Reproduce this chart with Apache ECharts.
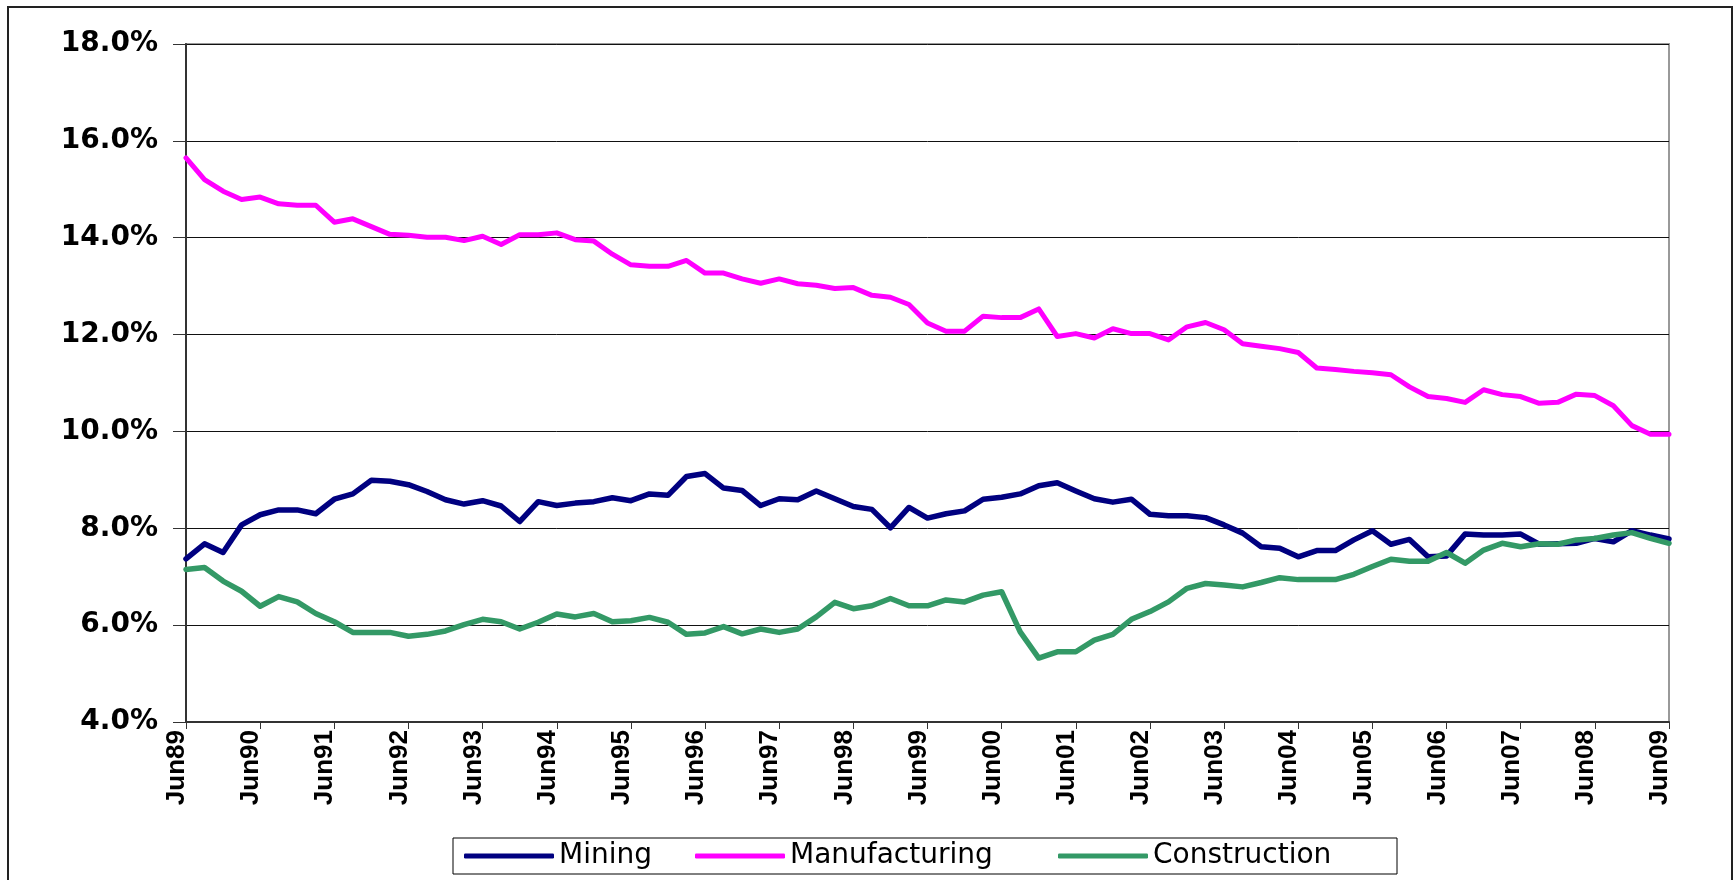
<!DOCTYPE html>
<html>
<head>
<meta charset="utf-8">
<script src="https://cdn.jsdelivr.net/npm/echarts@6/dist/echarts.min.js"></script>
<style>
html,body{margin:0;padding:0;background:#fff;}
#chart{width:1736px;height:880px;}
</style>
</head>
<body>
<div id="chart"></div>
<script>
const categories = [
 'Jun89','Sep89','Dec89','Mar90','Jun90','Sep90','Dec90','Mar91','Jun91','Sep91','Dec91','Mar92',
 'Jun92','Sep92','Dec92','Mar93','Jun93','Sep93','Dec93','Mar94','Jun94','Sep94','Dec94','Mar95',
 'Jun95','Sep95','Dec95','Mar96','Jun96','Sep96','Dec96','Mar97','Jun97','Sep97','Dec97','Mar98',
 'Jun98','Sep98','Dec98','Mar99','Jun99','Sep99','Dec99','Mar00','Jun00','Sep00','Dec00','Mar01',
 'Jun01','Sep01','Dec01','Mar02','Jun02','Sep02','Dec02','Mar03','Jun03','Sep03','Dec03','Mar04',
 'Jun04','Sep04','Dec04','Mar05','Jun05','Sep05','Dec05','Mar06','Jun06','Sep06','Dec06','Mar07',
 'Jun07','Sep07','Dec07','Mar08','Jun08','Sep08','Dec08','Mar09','Jun09'
];

const mining = [
 7.37,7.68,7.50,8.07,8.28,8.38,8.38,8.30,8.60,8.71,
 8.99,8.97,8.90,8.76,8.59,8.50,8.57,8.46,8.14,8.55,
 8.47,8.52,8.55,8.63,8.57,8.71,8.68,9.07,9.13,8.83,
 8.78,8.47,8.61,8.59,8.77,8.61,8.45,8.39,8.01,8.43,
 8.21,8.30,8.36,8.60,8.64,8.71,8.88,8.94,8.77,8.61,
 8.54,8.60,8.29,8.26,8.26,8.22,8.07,7.90,7.62,7.59,
 7.41,7.54,7.54,7.76,7.95,7.67,7.77,7.41,7.43,7.88,
 7.86,7.86,7.88,7.67,7.68,7.69,7.79,7.72,7.95,7.86,7.78
];

const manufacturing = [
 15.65,15.20,14.96,14.79,14.84,14.70,14.67,14.67,14.32,14.39,
 14.23,14.07,14.05,14.01,14.01,13.94,14.03,13.86,14.06,14.06,
 14.10,13.96,13.93,13.66,13.44,13.41,13.41,13.53,13.27,13.27,
 13.15,13.06,13.15,13.05,13.02,12.95,12.97,12.81,12.77,12.62,
 12.24,12.07,12.07,12.38,12.35,12.35,12.53,11.96,12.02,11.93,
 12.12,12.02,12.02,11.89,12.16,12.25,12.10,11.81,11.76,11.71,
 11.63,11.31,11.28,11.24,11.21,11.17,10.92,10.72,10.68,10.60,
 10.86,10.76,10.72,10.58,10.60,10.77,10.74,10.53,10.12,9.94,9.94
];

const construction = [
 7.15,7.19,6.91,6.70,6.39,6.59,6.48,6.24,6.07,5.85,
 5.85,5.85,5.77,5.81,5.88,6.01,6.12,6.07,5.92,6.06,
 6.23,6.17,6.24,6.07,6.09,6.16,6.06,5.81,5.84,5.97,
 5.82,5.92,5.85,5.92,6.17,6.47,6.34,6.40,6.55,6.40,
 6.40,6.52,6.48,6.62,6.69,5.86,5.32,5.45,5.45,5.69,
 5.81,6.12,6.28,6.48,6.76,6.86,6.83,6.79,6.88,6.98,
 6.94,6.94,6.94,7.05,7.21,7.36,7.32,7.32,7.50,7.28,
 7.55,7.69,7.62,7.68,7.67,7.76,7.79,7.86,7.91,7.79,7.69
];

const seriesNames = ['Mining','Manufacturing','Construction'];
const seriesColors = ['#000080','#FF00FF','#339966'];

const chart = echarts.init(document.getElementById('chart'), null, {renderer:'canvas'});

const legendRich = {
  a:{fontFamily:'DejaVu Sans',fontSize:28,color:'#000',width:122,lineHeight:28},
  b:{fontFamily:'DejaVu Sans',fontSize:28,color:'#000',width:254,lineHeight:28},
  c:{fontFamily:'DejaVu Sans',fontSize:28,color:'#000',width:228,lineHeight:28}
};
const richKey = {Mining:'a',Manufacturing:'b',Construction:'c'};

chart.setOption({
  animation:false,
  backgroundColor:'#fff',
  graphic:[{
    type:'rect',
    shape:{x:8,y:7,width:1724,height:900},
    style:{fill:'none',stroke:'#222',lineWidth:2},
    silent:true
  }],
  grid:{
    left:186, right:67, top:44, bottom:158,
    show:true, borderColor:'#999', borderWidth:2, backgroundColor:'transparent'
  },
  legend:{
    left:453, top:838,
    orient:'horizontal',
    data:seriesNames,
    icon:'roundRect',
    itemWidth:90, itemHeight:5,
    itemGap:14,
    padding:[4,16,4,11],
    borderColor:'#000', borderWidth:1,
    formatter:function(name){ return '{'+richKey[name]+'|'+name+'}'; },
    textStyle:{fontFamily:'DejaVu Sans',fontSize:28,color:'#000',rich:legendRich}
  },
  xAxis:{
    type:'category',
    data:categories,
    boundaryGap:false,
    axisLine:{show:true,lineStyle:{color:'#333',width:2}},
    axisTick:{show:true,interval:3,length:7,lineStyle:{color:'#333',width:1}},
    axisLabel:{
      interval:3, rotate:90, margin:8,
      fontFamily:'Liberation Sans', fontWeight:'bold', fontSize:26, color:'#000',
      verticalAlign:'bottom', lineHeight:18
    },
    splitLine:{show:false}
  },
  yAxis:{
    type:'value',
    min:4, max:18, interval:2,
    axisLine:{show:true,lineStyle:{color:'#333',width:2}},
    axisTick:{show:true,length:13,lineStyle:{color:'#333',width:1}},
    axisLabel:{
      margin:28,
      fontFamily:'DejaVu Sans', fontWeight:'bold', fontSize:28, color:'#000',
      formatter:function(v){ return v.toFixed(1)+'%'; }
    },
    splitLine:{show:true,lineStyle:{color:'#111',width:1}}
  },
  series:[
    {name:seriesNames[0],type:'line',data:mining,symbol:'none',
     lineStyle:{color:seriesColors[0],width:5.5,join:'round',cap:'round'},itemStyle:{color:seriesColors[0]}},
    {name:seriesNames[1],type:'line',data:manufacturing,symbol:'none',
     lineStyle:{color:seriesColors[1],width:5,join:'round',cap:'round'},itemStyle:{color:seriesColors[1]}},
    {name:seriesNames[2],type:'line',data:construction,symbol:'none',
     lineStyle:{color:seriesColors[2],width:5.5,join:'round',cap:'round'},itemStyle:{color:seriesColors[2]}}
  ]
});
</script>
</body>
</html>
